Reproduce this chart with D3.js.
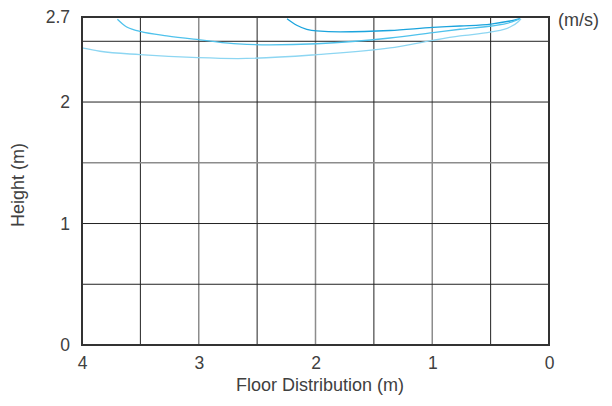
<!DOCTYPE html>
<html><head><meta charset="utf-8">
<script src="https://cdn.jsdelivr.net/npm/d3@7"></script>
<style>body{margin:0;background:#fff}svg{display:block}text{font-family:"Liberation Sans",Arial,sans-serif;fill:#404040}</style>
</head><body><svg id="c" width="612" height="406"></svg>
<script>
const xTicks = [4, 3, 2, 1, 0];
const yTicks = [0, 1, 2, 2.7];
const gridX = [3.5, 3, 2.5, 2, 1.5, 1, 0.5];
const gridY = [0.5, 1, 1.5, 2, 2.5];
const seriesColors = ["#1ba4dd", "#4fc2ec", "#8dd6f2"];
const curveA_x = [2.244, 2.161, 2.075, 1.99, 1.79, 1.362, 0.994, 0.762, 0.497, 0.334, 0.248];
const curveA_y = [2.686, 2.632, 2.599, 2.585, 2.578, 2.589, 2.614, 2.626, 2.642, 2.667, 2.686];
const curveB_x = [3.697, 3.655, 3.617, 3.56, 3.503, 3.274, 2.951, 2.664, 2.39, 1.987, 1.362, 0.994, 0.762, 0.497, 0.317, 0.248];
const curveB_y = [2.682, 2.645, 2.618, 2.597, 2.582, 2.544, 2.508, 2.478, 2.471, 2.48, 2.527, 2.571, 2.599, 2.626, 2.659, 2.686];
const curveC_x = [4.0, 3.846, 3.503, 3.006, 2.664, 1.987, 1.362, 0.994, 0.762, 0.497, 0.334, 0.266, 0.240];
const curveC_y = [2.445, 2.418, 2.39, 2.365, 2.358, 2.39, 2.445, 2.508, 2.544, 2.577, 2.618, 2.659, 2.686];

const svg = d3.select("#c");
const x = d3.scaleLinear().domain([4, 0]).range([82, 549]);
const y = d3.scaleLinear().domain([0, 2.7]).range([345, 17]);

// grid
svg.append("g").selectAll("line").data(gridX).join("line")
  .attr("x1", d => x(d)).attr("x2", d => x(d)).attr("y1", y(2.7)).attr("y2", y(0))
  .attr("stroke", d => Number.isInteger(d) ? "#8c8c8c" : "#222")
  .attr("stroke-width", d => Number.isInteger(d) ? 1.5 : 1);
svg.append("g").selectAll("line").data(gridY).join("line")
  .attr("x1", x(4)).attr("x2", x(0)).attr("y1", d => y(d)).attr("y2", d => y(d))
  .attr("stroke", d => d === 1.5 ? "#8c8c8c" : "#222")
  .attr("stroke-width", d => d === 1.5 ? 1.5 : 1);

// curves
const line = d3.line().x(d => x(d[0])).y(d => y(d[1])).curve(d3.curveMonotoneX);
const data = [
  d3.zip(curveA_x, curveA_y),
  d3.zip(curveB_x, curveB_y),
  d3.zip(curveC_x, curveC_y)
];
svg.append("g").selectAll("path").data(data).join("path")
  .attr("d", line).attr("fill", "none")
  .attr("stroke", (d, i) => seriesColors[i]).attr("stroke-width", 1.3);

// frame
svg.append("rect").attr("x", x(4)).attr("y", y(2.7))
  .attr("width", x(0) - x(4)).attr("height", y(0) - y(2.7))
  .attr("fill", "none").attr("stroke", "#333").attr("stroke-width", 2);

const FS = 17.5;
const xAxis = d3.axisBottom(x).tickValues(xTicks).tickSize(0).tickPadding(12).tickFormat(d3.format("d"));
const gx = svg.append("g").attr("transform", `translate(0,${y(0)})`).call(xAxis);
gx.select(".domain").remove();
gx.selectAll("text").attr("font-size", FS).attr("fill", "#404040").attr("font-family", "Liberation Sans, Arial, sans-serif");

const yAxis = d3.axisLeft(y).tickValues(yTicks).tickSize(0).tickPadding(12).tickFormat(d => d === 2.7 ? "2.7" : d3.format("d")(d));
const gy = svg.append("g").attr("transform", `translate(${x(4)},0)`).call(yAxis);
gy.select(".domain").remove();
gy.selectAll("text").attr("font-size", FS).attr("fill", "#404040").attr("font-family", "Liberation Sans, Arial, sans-serif");

svg.append("text").attr("x", 320).attr("y", 391).attr("text-anchor", "middle")
  .attr("font-size", 18).text("Floor Distribution (m)");
svg.append("text").attr("transform", "translate(24,185) rotate(-90)").attr("text-anchor", "middle")
  .attr("font-size", 18).text("Height (m)");
svg.append("text").attr("x", 558).attr("y", 26).attr("font-size", 18).text("(m/s)");
</script></body></html>
